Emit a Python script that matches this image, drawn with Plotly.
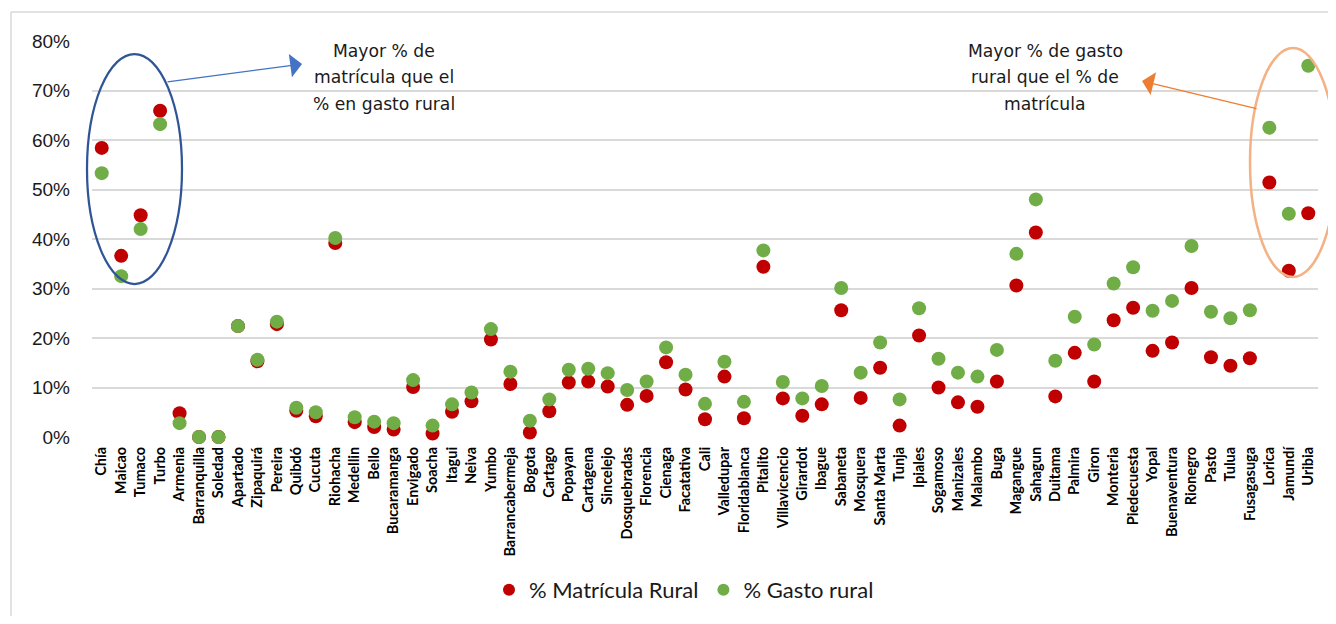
import plotly.graph_objects as go

ciudades = ["Chía", "Maicao", "Tumaco", "Turbo", "Armenia", "Barranquilla", "Soledad", "Apartado",
            "Zipaquirá", "Pereira", "Quibdó", "Cucuta", "Riohacha", "Medellin", "Bello", "Bucaramanga",
            "Envigado", "Soacha", "Itagui", "Neiva", "Yumbo", "Barrancabermeja", "Bogota", "Cartago",
            "Popayan", "Cartagena", "Sincelejo", "Dosquebradas", "Florencia", "Cienaga", "Facatativa",
            "Cali", "Valledupar", "Floridablanca", "Pitalito", "Villavicencio", "Girardot", "Ibague",
            "Sabaneta", "Mosquera", "Santa Marta", "Tunja", "Ipiales", "Sogamoso", "Manizales",
            "Malambo", "Buga", "Magangue", "Sahagun", "Duitama", "Palmira", "Giron", "Monteria",
            "Piedecuesta", "Yopal", "Buenaventura", "Rionegro", "Pasto", "Tulua", "Fusagasuga",
            "Lorica", "Jamundí", "Uribia"]

matricula_rural = [58.4, 36.6, 44.8, 65.9, 4.8, 0.0, 0.0, 22.4,
                   15.3, 22.8, 5.3, 4.2, 39.2, 3.0, 2.0, 1.5,
                   10.1, 0.7, 5.1, 7.2, 19.7, 10.7, 0.9, 5.2,
                   11.0, 11.2, 10.2, 6.5, 8.3, 15.1, 9.6,
                   3.6, 12.2, 3.8, 34.4, 7.8, 4.3, 6.6,
                   25.6, 7.9, 14.0, 2.3, 20.5, 10.0, 7.0,
                   6.1, 11.2, 30.6, 41.3, 8.2, 17.0, 11.2, 23.6,
                   26.1, 17.4, 19.1, 30.1, 16.1, 14.4, 15.9,
                   51.4, 33.6, 45.2]

gasto_rural = [53.3, 32.5, 42.0, 63.2, 2.8, 0.0, 0.0, 22.4,
               15.6, 23.3, 5.9, 5.0, 40.2, 4.0, 3.1, 2.8,
               11.5, 2.3, 6.6, 9.0, 21.8, 13.2, 3.3, 7.6,
               13.6, 13.8, 12.9, 9.5, 11.2, 18.1, 12.6,
               6.7, 15.2, 7.1, 37.7, 11.1, 7.8, 10.3,
               30.1, 13.0, 19.1, 7.6, 26.0, 15.8, 13.0,
               12.2, 17.6, 37.0, 48.0, 15.4, 24.3, 18.7, 31.0,
               34.3, 25.5, 27.5, 38.6, 25.3, 24.0, 25.6,
               62.5, 45.1, 75.0]

texto_izq = ["Mayor % de", "matrícula que el", "% en gasto rural"]
texto_der = ["Mayor % de gasto", "rural que el % de", "matrícula"]

OFF = 8  # page body margin
W, H = 1336 - 2 * OFF, 624 - 2 * OFF
# target plot area in window pixels: x 92..1318, y 41..437
ML = 92 - OFF
MT = 41 - OFF
MR = (OFF + W) - 1318
MB = (OFF + H) - 437
PW, PH = 1318 - 92, 437 - 41


def px(x):
    return (x - 92) / PW


def py(y):
    return (437 - y) / PH


fig = go.Figure()
fig.add_trace(go.Scatter(
    x=ciudades, y=[v / 100 for v in matricula_rural], mode="markers",
    name="% Matrícula Rural", cliponaxis=False,
    marker=dict(color="#C00000", size=14, line=dict(width=0)),
))
fig.add_trace(go.Scatter(
    x=ciudades, y=[v / 100 for v in gasto_rural], mode="markers",
    name="% Gasto rural", cliponaxis=False,
    marker=dict(color="#70AD47", size=14, line=dict(width=0)),
))

annotations = []
for txt, yy in zip(texto_izq, [51, 77, 104]):
    annotations.append(dict(text=txt, xref="paper", yref="paper", x=px(384), y=py(yy),
                            xanchor="center", yanchor="middle", showarrow=False,
                            font=dict(family="DejaVu Sans", size=17.2, color="#1a1a1a")))
for txt, yy in zip(texto_der, [51, 77, 104]):
    annotations.append(dict(text=txt, xref="paper", yref="paper", x=px(1045), y=py(yy),
                            xanchor="center", yanchor="middle", showarrow=False,
                            font=dict(family="DejaVu Sans", size=17.2, color="#1a1a1a")))
# arrows
annotations.append(dict(text="", xref="paper", yref="paper", x=px(302), y=py(64),
                        ax=166 - 302, ay=82 - 64, showarrow=True, arrowhead=1,
                        arrowsize=3, arrowwidth=1.3, arrowcolor="#4472C4", standoff=0))
annotations.append(dict(text="", xref="paper", yref="paper", x=px(1142), y=py(81),
                        ax=1258 - 1142, ay=109 - 81, showarrow=True, arrowhead=1,
                        arrowsize=3, arrowwidth=1.3, arrowcolor="#ED7D31", standoff=0))

shapes = [
    dict(type="circle", xref="paper", yref="paper", x0=px(87), x1=px(182), y0=py(284), y1=py(54),
         line=dict(color="#2F5597", width=2.25)),
    dict(type="circle", xref="paper", yref="paper", x0=px(1250), x1=px(1336), y0=py(277), y1=py(48),
         line=dict(color="#F4B183", width=2.5)),
    dict(type="line", xref="paper", yref="paper", x0=px(11), x1=px(11), y0=py(12), y1=py(640),
         line=dict(color="#d9d9d9", width=1.5)),
    dict(type="line", xref="paper", yref="paper", x0=px(11), x1=px(1340), y0=py(12), y1=py(12),
         line=dict(color="#d9d9d9", width=1.5)),
]

fig.update_layout(
    width=W, height=H,
    margin=dict(l=ML, r=MR, t=MT, b=MB, pad=0, autoexpand=False),
    paper_bgcolor="white", plot_bgcolor="white",
    showlegend=True,
    legend=dict(orientation="h", xref="container", yref="container",
                x=(684 - OFF) / W, y=1 - (590 - OFF) / H, xanchor="center", yanchor="middle",
                font=dict(family="Lato", size=22, color="#1a1a1a"), itemsizing="constant",
                bgcolor="rgba(0,0,0,0)"),
    annotations=annotations,
    shapes=shapes,
)
fig.update_yaxes(range=[0, 0.8], dtick=0.1, tickformat=".0%", showgrid=True,
                 gridcolor="#d9d9d9", gridwidth=1.5, zeroline=False, showline=False,
                 ticks="", ticklabelstandoff=21,
                 tickfont=dict(family="Liberation Sans", size=19, color="#1a1a1a"))
fig.update_xaxes(type="category", tickangle=-90, showgrid=False, zeroline=False,
                 showline=False, ticks="", ticklabelstandoff=6, range=[-0.5, len(ciudades) - 0.5],
                 tickfont=dict(family="Lato", size=14.5, color="#000000", weight="bold"))

fig.write_html("out.html")
